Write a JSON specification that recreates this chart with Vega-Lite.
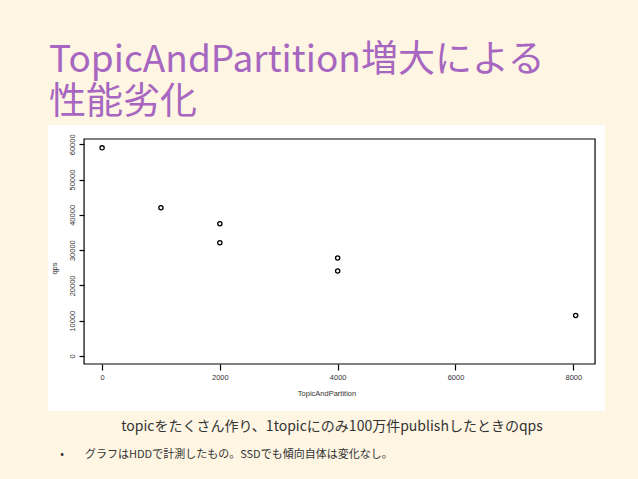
{
  "$schema": "https://vega.github.io/schema/vega-lite/v6.json",
  "width": 557,
  "height": 286,
  "autosize": {"type": "none"},
  "padding": {"left": 48, "top": 125, "right": 33, "bottom": 68},
  "background": "#FEF5E3",
  "config": {
    "view": {"stroke": null, "fill": "white"},
    "axis": {"labelFont": "Liberation Sans", "titleFont": "Liberation Sans"}
  },
  "title": {
    "text": ["TopicAndPartition増大による", "性能劣化"],
    "font": "Noto Sans CJK JP",
    "fontSize": 37,
    "fontWeight": "normal",
    "color": "#A766C0",
    "anchor": "start",
    "frame": "group",
    "dx": 1,
    "offset": 3,
    "lineHeight": 42
  },
  "data": {
    "values": [
      {"TopicAndPartition": 1, "qps": 59000},
      {"TopicAndPartition": 1000, "qps": 42000},
      {"TopicAndPartition": 2000, "qps": 37500},
      {"TopicAndPartition": 2000, "qps": 32100},
      {"TopicAndPartition": 4000, "qps": 27800},
      {"TopicAndPartition": 4000, "qps": 24100},
      {"TopicAndPartition": 8040, "qps": 11500}
    ]
  },
  "layer": [
    {
      "data": {"values": [{}]},
      "mark": {"type": "rect", "fill": null, "stroke": "black", "strokeWidth": 1.2},
      "encoding": {
        "x": {"datum": -305, "type": "quantitative", "scale": {"domain": [-917, 8538], "nice": false, "zero": false}},
        "x2": {"datum": 8369},
        "y": {"datum": 61508, "type": "quantitative", "scale": {"domain": [-15590, 65476], "nice": false, "zero": false}},
        "y2": {"datum": -2268}
      }
    },
    {
      "mark": {"type": "point", "shape": "circle", "filled": false, "size": 18, "stroke": "black", "strokeWidth": 1.3, "opacity": 1},
      "encoding": {
        "x": {
          "field": "TopicAndPartition",
          "type": "quantitative",
          "scale": {"domain": [-917, 8538], "nice": false, "zero": false},
          "axis": {
            "values": [0, 2000, 4000, 6000, 8000],
            "domain": false,
            "grid": false,
            "offset": -47,
            "tickSize": 6,
            "tickColor": "black",
            "tickWidth": 1.2,
            "labelFontSize": 7.5,
            "labelColor": "#333",
            "labelPadding": 3,
            "format": "d",
            "title": "TopicAndPartition",
            "titleFontSize": 7.5,
            "titleFontWeight": "normal",
            "titleColor": "#333",
            "titlePadding": 9
          }
        },
        "y": {
          "field": "qps",
          "type": "quantitative",
          "scale": {"domain": [-15590, 65476], "nice": false, "zero": false},
          "axis": {
            "values": [0, 10000, 20000, 30000, 40000, 50000, 60000],
            "domain": false,
            "grid": false,
            "offset": -36,
            "tickSize": 5,
            "tickColor": "black",
            "tickWidth": 1.2,
            "labelFontSize": 7.5,
            "labelColor": "#333",
            "labelAngle": -90,
            "labelAlign": "center",
            "labelBaseline": "bottom",
            "labelPadding": 3,
            "format": "d",
            "title": "qps",
            "titleFontSize": 7.5,
            "titleFontWeight": "normal",
            "titleColor": "#333",
            "titlePadding": 10
          }
        }
      }
    },
    {
      "data": {"values": [{"t": "topicをたくさん作り、1topicにのみ100万件publishしたときのqps"}]},
      "mark": {"type": "text", "font": "Noto Sans CJK JP", "fontSize": 14, "color": "#333", "align": "center", "baseline": "middle"},
      "encoding": {
        "text": {"field": "t"},
        "x": {"datum": 3904, "type": "quantitative"},
        "y": {"datum": -20125, "type": "quantitative"}
      }
    },
    {
      "data": {"values": [{"t": "•"}]},
      "mark": {"type": "text", "font": "Noto Sans CJK JP", "fontSize": 11, "color": "#333", "align": "center", "baseline": "middle"},
      "encoding": {
        "text": {"field": "t"},
        "x": {"datum": -679, "type": "quantitative"},
        "y": {"datum": -28061, "type": "quantitative"}
      }
    },
    {
      "data": {"values": [{"t": "グラフはHDDで計測したもの。SSDでも傾向自体は変化なし。"}]},
      "mark": {"type": "text", "font": "Noto Sans CJK JP", "fontSize": 11, "color": "#333", "align": "left", "baseline": "middle"},
      "encoding": {
        "text": {"field": "t"},
        "x": {"datum": -289, "type": "quantitative"},
        "y": {"datum": -28061, "type": "quantitative"}
      }
    }
  ]
}
